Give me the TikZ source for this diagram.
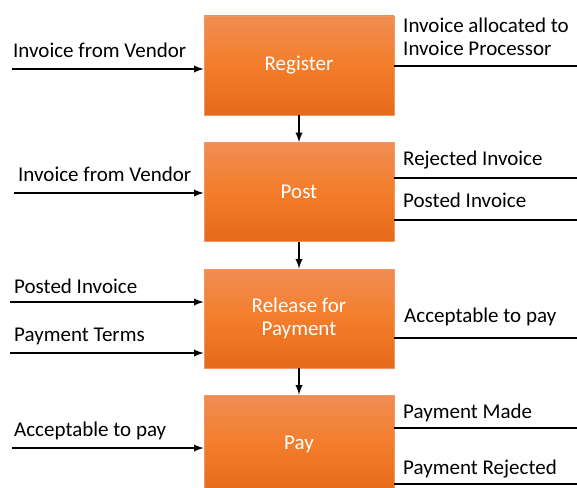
\documentclass[tikz,border=0pt]{standalone}
\usepackage{fontspec}
\setmainfont{Carlito}
\usetikzlibrary{arrows,positioning}
\definecolor{boxtop}{RGB}{241,141,84}
\definecolor{boxmid}{RGB}{243,125,42}
\definecolor{boxbot}{RGB}{229,106,26}
\definecolor{boxline}{RGB}{244,150,95}
\tikzstyle{stage} = [rectangle, minimum width=190pt, minimum height=99pt, inner sep=0pt,
  top color=boxtop, bottom color=boxbot, middle color=boxmid, draw=boxline, line width=0.8pt,
  text=white, align=center]
\tikzstyle{arrow} = [line width=2.2pt,-latex]
\tikzstyle{flow} = [line width=2.2pt]
\tikzstyle{lbl} = [anchor=base west, inner sep=0pt]

\begin{document}
\begin{tikzpicture}[x=1pt, y=-1pt, font=\fontsize{21}{23}\selectfont]
\useasboundingbox (0,0) rectangle (577,487);
\clip (0,0) rectangle (577,487);

% Process steps
\node[stage] (register) at (299,65.5) {Register};
\node[stage] (post) at (299,192) {Post};
\node[stage] (release) at (299,318.5) {Release for\\Payment};
\node[stage] (pay) at (299,444.5) {Pay};

% Flow down the steps
\draw[arrow] (register) -- (post);
\draw[arrow] (post) -- (release);
\draw[arrow] (release) -- (pay);

% Register
\coordinate (regin) at (12,69);
\draw[arrow] (regin) -- (regin -| register.west);
\node[lbl] at (13,57) {Invoice from Vendor};
\coordinate (regout) at (577,66);
\draw[flow] (regout -| register.east) -- (regout);
\node[lbl] at (403,33) {Invoice allocated to};
\node[lbl] at (403,56) {Invoice Processor};

% Post
\coordinate (postin) at (14,193);
\draw[arrow] (postin) -- (postin -| post.west);
\node[lbl] at (18,181) {Invoice from Vendor};
\coordinate (postrej) at (577,178);
\draw[flow] (postrej -| post.east) -- (postrej);
\node[lbl] at (403,165) {Rejected Invoice};
\coordinate (postok) at (577,220);
\draw[flow] (postok -| post.east) -- (postok);
\node[lbl] at (403,207) {Posted Invoice};

% Release for payment
\coordinate (relinvoice) at (10,302);
\draw[arrow] (relinvoice) -- (relinvoice -| release.west);
\node[lbl] at (14,293) {Posted Invoice};
\coordinate (relterms) at (10,353);
\draw[arrow] (relterms) -- (relterms -| release.west);
\node[lbl] at (14,341) {Payment Terms};
\coordinate (relout) at (577,338);
\draw[flow] (relout -| release.east) -- (relout);
\node[lbl] at (404,322) {Acceptable to pay};

% Pay
\coordinate (payin) at (12,448);
\draw[arrow] (payin) -- (payin -| pay.west);
\node[lbl] at (14,436) {Acceptable to pay};
\coordinate (paymade) at (577,428);
\draw[flow] (paymade -| pay.east) -- (paymade);
\node[lbl] at (403,418) {Payment Made};
\coordinate (payrej) at (577,484);
\draw[flow] (payrej -| pay.east) -- (payrej);
\node[lbl] at (403,474) {Payment Rejected};
\end{tikzpicture}
\end{document}
